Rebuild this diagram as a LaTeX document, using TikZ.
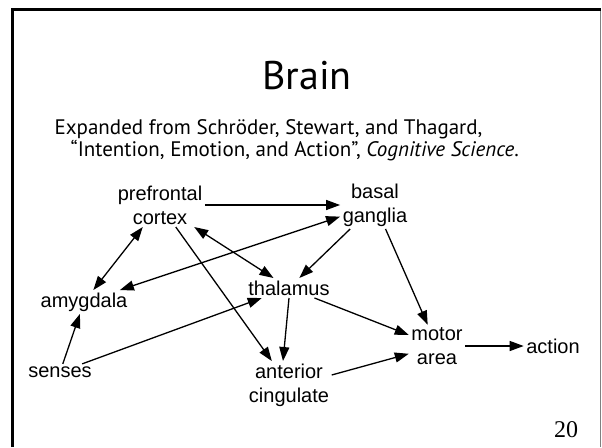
\documentclass[tikz,border=0pt]{standalone}
\usepackage{fontspec}
\setmainfont{Liberation Sans}
\newfontfamily\slidefont{PT Sans}
\newfontfamily\numfont{Liberation Serif}
\usetikzlibrary{arrows.meta}
\usetikzlibrary{positioning}
\tikzset{
    region/.style={
           inner sep=2pt,
           align=center,
           font=\fontsize{20}{24}\selectfont,
           },
    cite/.style={
           anchor=base west,
           inner sep=0pt,
           font=\slidefont\fontsize{21}{24}\selectfont,
           },
    both/.style={<->},
}

\begin{document}
\begin{tikzpicture}[->,>={Triangle[length=14pt,width=10pt]},
  x=1pt,y=-1pt,line width=1.3pt]
\useasboundingbox (0,0) rectangle (602,447);
 % slide frame
 \draw[-,line width=1.4pt,gray] (600.5,9.5) -- (600.5,447);
 \draw[-,line width=3pt] (12,447) -- (12,9.5) -- (601,9.5);

 \node[anchor=base,inner sep=0pt,font=\slidefont\fontsize{40}{44}\selectfont]
   (title) at (307,89) {Brain};
 \node[cite] (cite1) at (54,134) {Expanded from Schröder, Stewart, and Thagard,};
 \node[cite] (cite2) at (70,156) {“Intention, Emotion, and Action”, \textit{Cognitive Science}.};

 \node[region] (pfc) at (160,205) {prefrontal\\cortex};
 \node[region,right of=pfc,node distance=215pt] (bg) {basal\\ganglia};
 \node[region] (amy) at (84,302) {amygdala};
 \node[region] (thal) at (289,288) {thalamus};
 \node[region] (senses) at (60,372) {senses};
 \node[region,below of=thal,node distance=97pt] (acc) {anterior\\cingulate};
 \node[region] (motor) at (437,346) {motor\\area};
 \node[region,right of=motor,node distance=116pt] (action) {action};

 \node[font=\numfont\fontsize{24}{28}\selectfont] (page) at (566,430) {20};

 % connections between the regions
\path
  (pfc) edge (bg)
  (amy) edge[both] (pfc)
  (amy) edge[both] (bg)
  (pfc) edge[both] (thal)
  (pfc) edge (acc)
  (bg) edge (thal)
  (bg) edge (motor)
  (thal) edge (motor)
  (thal.south) edge ([xshift=-6pt]acc.north)
  (senses) edge (amy)
  (senses) edge (thal)
  ([yshift=10pt]acc.east) edge (motor)
  (motor) edge (action)
 ;
\end{tikzpicture}
\end{document}
